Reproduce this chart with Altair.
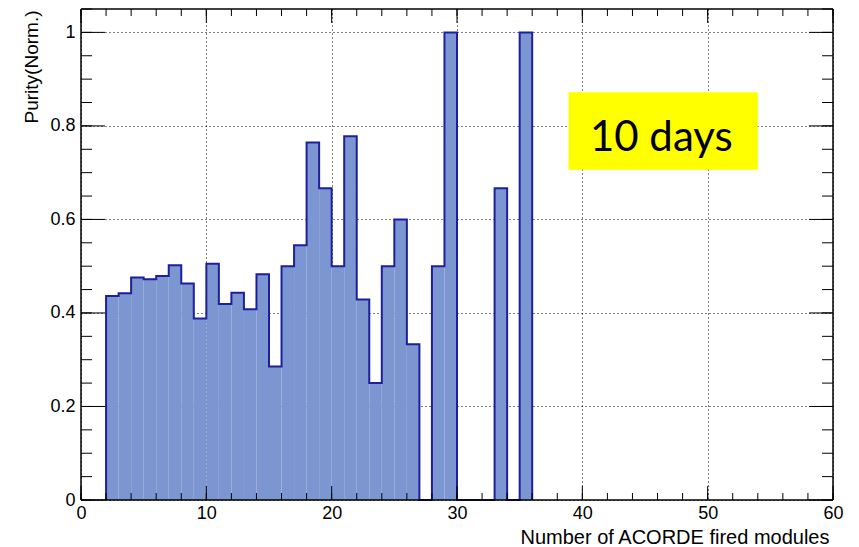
import altair as alt
import pandas as pd

# ---- data ----
bin_low = list(range(2, 36))
purity = [0.436, 0.442, 0.476, 0.472, 0.479, 0.502, 0.463, 0.388, 0.505, 0.419,
          0.443, 0.408, 0.483, 0.2857, 0.5, 0.545, 0.7647, 0.6667, 0.5, 0.7778,
          0.4286, 0.25, 0.5, 0.6, 0.3333, 0.0, 0.5, 1.0, 0.0, 0.0,
          0.0, 0.6667, 0.0, 1.0]
bin_width = 1

x_major = [0, 10, 20, 30, 40, 50, 60]
x_minor = list(range(0, 61, 2))
y_major = [0, 0.2, 0.4, 0.6, 0.8, 1.0]
y_minor = [round(i * 0.05, 2) for i in range(0, 22)]

x_title = "Number of ACORDE fired modules"
y_title = "Purity(Norm.)"

note_text = ["10 days"]
note_box_x = [38.9, 54.0]
note_box_y = [0.706, 0.872]
note_text_pos = [46.3, 0.747]

W, H = 752, 491
FILL = "#7b96d0"
EDGE = "#1f1f9e"

xs = alt.Scale(domain=[0, 60], nice=False, zero=False)
ys = alt.Scale(domain=[0, 1.05], nice=False)

AX_X = alt.Axis(values=x_major, grid=True, gridColor="black", gridDash=[1, 3],
                gridWidth=1, gridOpacity=1, ticks=False, domain=False,
                labelPadding=4, labelFontSize=18, labelColor="black",
                labelFont="Liberation Sans", labelFlush=False,
                title=x_title, titleFont="Liberation Sans", titleFontSize=20,
                titleFontWeight="normal", titleColor="black",
                titleAnchor="end", titleAlign="right", titleBaseline="alphabetic",
                titleX=W - 4, titleY=43)
AX_Y = alt.Axis(values=y_major, grid=True, gridColor="black", gridDash=[1, 3],
                gridWidth=1, gridOpacity=1, ticks=False, domain=False,
                labelPadding=6, labelFontSize=18, labelColor="black",
                labelFont="Liberation Sans", labelFlush=False,
                labelExpr="format(datum.value, '~g')",
                title=y_title, titleFont="Liberation Sans", titleFontSize=19,
                titleFontWeight="normal", titleColor="black",
                titleAngle=270, titleAlign="right", titleBaseline="alphabetic",
                titleX=-44, titleY=1)

def X(f):
    return alt.X(f, scale=xs, axis=AX_X)

def Y(f):
    return alt.Y(f, scale=ys, axis=AX_Y)

# step outline points
sx = [bin_low[0]] + bin_low + [bin_low[-1] + bin_width]
sy = [0.0] + purity + [0.0]
step = pd.DataFrame({"x": sx, "y": sy, "i": list(range(len(sx)))})

fill = alt.Chart(step).mark_area(interpolate="step-after", color=FILL, opacity=1).encode(
    x=X("x:Q"), y=Y("y:Q"), order="i:Q")

outline = alt.Chart(step).mark_line(interpolate="step-after", color=EDGE, strokeWidth=2).encode(
    x=X("x:Q"), y=Y("y:Q"), order="i:Q")

def xticks(vals, length):
    d = pd.DataFrame({"t": vals})
    b = alt.Chart(d).mark_rule(color="black", strokeWidth=1).encode(
        x=X("t:Q"), y=alt.value(H), y2=alt.value(H - length))
    t = alt.Chart(d).mark_rule(color="black", strokeWidth=1).encode(
        x=X("t:Q"), y=alt.value(0), y2=alt.value(length))
    return [b, t]

def yticks(vals, length):
    d = pd.DataFrame({"t": vals})
    l = alt.Chart(d).mark_rule(color="black", strokeWidth=1).encode(
        y=Y("t:Q"), x=alt.value(0), x2=alt.value(length))
    r = alt.Chart(d).mark_rule(color="black", strokeWidth=1).encode(
        y=Y("t:Q"), x=alt.value(W), x2=alt.value(W - length))
    return [l, r]

ticks = xticks(x_major, 14) + xticks(x_minor, 7) + yticks(y_major, 24) + yticks(y_minor, 11)

frame_df = pd.DataFrame({"k": [0]})
frame = [
    alt.Chart(frame_df).mark_rule(color="black", strokeWidth=1.5).encode(
        x=alt.value(0), x2=alt.value(W), y=alt.value(H)),
    alt.Chart(frame_df).mark_rule(color="black", strokeWidth=1.5).encode(
        x=alt.value(0), x2=alt.value(W), y=alt.value(0)),
    alt.Chart(frame_df).mark_rule(color="black", strokeWidth=1.5).encode(
        x=alt.value(0), y=alt.value(0), y2=alt.value(H)),
    alt.Chart(frame_df).mark_rule(color="black", strokeWidth=1.5).encode(
        x=alt.value(W), y=alt.value(0), y2=alt.value(H)),
]

box_df = pd.DataFrame({"x1": [note_box_x[0]], "x2": [note_box_x[1]],
                       "y1": [note_box_y[0]], "y2": [note_box_y[1]]})
box = alt.Chart(box_df).mark_rect(fill="#ffff00").encode(
    x=X("x1:Q"), x2="x2:Q", y=Y("y1:Q"), y2="y2:Q")

txt_df = pd.DataFrame({"x": [note_text_pos[0]], "y": [note_text_pos[1]], "t": note_text})
txt = alt.Chart(txt_df).mark_text(font="Lato", fontSize=42, color="black",
                                   align="center", baseline="alphabetic").encode(
    x=X("x:Q"), y=Y("y:Q"), text="t:N")

chart = alt.layer(fill, outline, *ticks, *frame, box, txt).properties(
    width=W, height=H,
    autosize=alt.AutoSizeParams(type="none"),
    padding={"left": 73, "top": 1, "right": 18, "bottom": 46},
    background="white",
).configure_view(stroke=None)

chart.save("out.html", embed_options={"renderer": "svg", "actions": False})
